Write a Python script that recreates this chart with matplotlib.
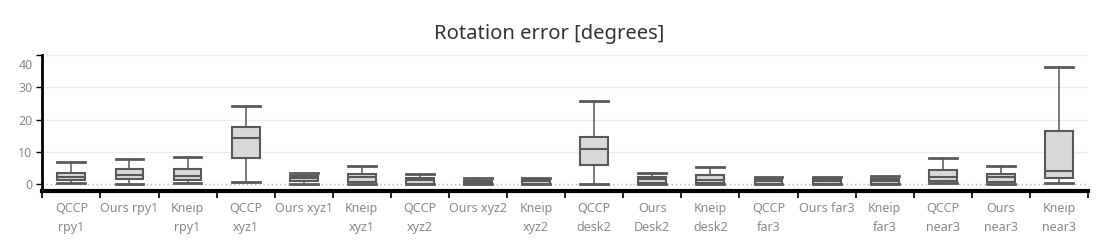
import numpy as np
import matplotlib.pyplot as plt
from matplotlib.transforms import offset_copy

labels = [
    "QCCP\nrpy1", "Ours rpy1", "Kneip\nrpy1",
    "QCCP\nxyz1", "Ours xyz1", "Kneip\nxyz1",
    "QCCP\nxyz2", "Ours xyz2", "Kneip\nxyz2",
    "QCCP\ndesk2", "Ours\nDesk2", "Kneip\ndesk2",
    "QCCP\nfar3", "Ours far3", "Kneip\nfar3",
    "QCCP\nnear3", "Ours\nnear3", "Kneip\nnear3",
]
whislo = [0.5, 0.1, 0.5, 0.8, 0.2, 0.2, 0.0, 0.0, 0.0, 0.2, 0.1, 0.1, 0.0, 0.0, 0.0, 0.4, 0.2, 0.5]
q1 = [1.3, 1.6, 1.5, 8.2, 1.0, 0.8, 0.1, 0.1, 0.1, 6.0, 0.3, 0.3, 0.1, 0.1, 0.1, 1.1, 0.8, 1.9]
med = [2.3, 2.9, 2.6, 14.4, 1.9, 2.3, 1.3, 0.7, 0.9, 10.8, 1.6, 1.5, 1.0, 1.0, 1.0, 2.3, 2.3, 4.2]
q3 = [3.6, 4.6, 4.6, 17.8, 2.6, 3.1, 2.0, 1.1, 1.8, 14.7, 2.3, 2.8, 1.7, 1.6, 1.6, 4.3, 3.1, 16.4]
whishi = [7.0, 7.9, 8.5, 24.3, 3.6, 5.8, 3.3, 1.9, 1.9, 25.9, 3.6, 5.4, 2.4, 2.4, 2.7, 8.2, 5.8, 36.4]

plt.rcParams["font.family"] = ["Noto Sans", "DejaVu Sans"]

fig = plt.figure(figsize=(10.99, 2.49), dpi=100)
ax = fig.add_axes([0.0385, 0.233, 0.9515, 0.546])

stats = [
    dict(whislo=a, q1=b, med=c, q3=d, whishi=e, label=l)
    for a, b, c, d, e, l in zip(whislo, q1, med, q3, whishi, labels)
]
pos = np.arange(len(labels))
edge = "#595959"
ax.bxp(
    stats, positions=pos, widths=0.48, showfliers=False, patch_artist=True,
    boxprops=dict(facecolor="#d9d9d9", edgecolor=edge, linewidth=1.5),
    medianprops=dict(color=edge, linewidth=1.5),
    whiskerprops=dict(color=edge, linewidth=1.1),
    capprops=dict(color=edge, linewidth=2),
    capwidths=0.48,
)

ax.set_xlim(-0.5, len(labels) - 0.5)
ax.set_ylim(-2.05, 40)
ax.set_yticks([0, 10, 20, 30, 40])
for y in [10, 20, 30, 40]:
    ax.axhline(y, color="#ececec", linewidth=1, zorder=0)
ax.axhline(0, color="#b0b0b0", linewidth=1, linestyle=(0, (1, 2)), zorder=0)

ax.set_xticks(pos)
ax.set_xticklabels(labels, color="#8a8a8a", fontsize=9, linespacing=1.6)
ax.tick_params(axis="x", which="major", length=0, pad=8)
ax.set_xticks(np.arange(len(labels) + 1) - 0.5, minor=True)
ax.tick_params(axis="x", which="minor", length=5, width=1.2, color="black")
ax.tick_params(axis="y", length=4, width=1, color="black", labelcolor="#8a8a8a",
               labelsize=9, pad=3)
for t in ax.get_yticklabels():
    if t.get_text() == "40":
        t.set_transform(offset_copy(t.get_transform(), fig=fig, y=-9, units="dots"))

for s in ["top", "right"]:
    ax.spines[s].set_visible(False)
ax.spines["left"].set_linewidth(2)
ax.spines["bottom"].set_linewidth(3)

fig.text(0.5, 0.865, "Rotation error [degrees]", ha="center", va="center",
         fontsize=14.5, color="#333333")

fig.savefig("out.png", dpi=100)
